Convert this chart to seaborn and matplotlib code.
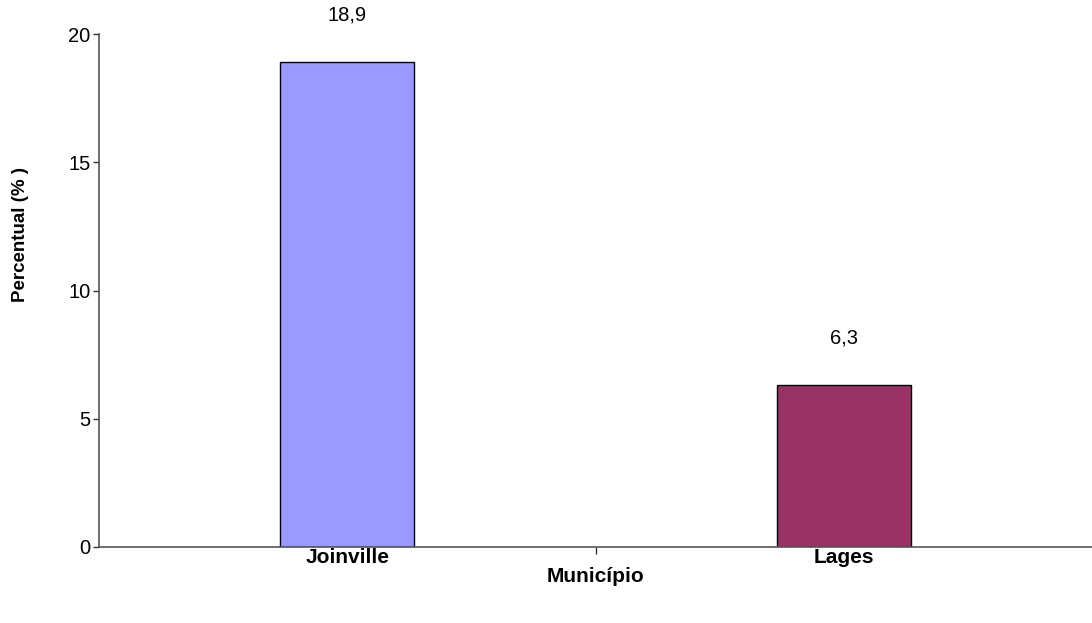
import matplotlib.pyplot as plt
import pandas as pd
import seaborn as sns
from matplotlib.ticker import FixedLocator

municipios = ["Joinville", "Lages"]
percentual = [18.9, 6.3]
rotulos = ["18,9", "6,3"]
cores = ["#9999FF", "#993366"]
y_ticks = [0, 5, 10, 15, 20]


def main():
    sns.set_theme(style="white")
    plt.rcParams["font.family"] = ["Liberation Sans", "DejaVu Sans"]
    plt.rcParams["text.color"] = "black"
    plt.rcParams["axes.labelcolor"] = "black"
    plt.rcParams["xtick.color"] = "black"
    plt.rcParams["ytick.color"] = "black"

    df = pd.DataFrame({"Município": municipios, "Percentual": percentual})

    fig = plt.figure(figsize=(10.92, 6.23), dpi=100)
    ax = fig.add_axes([0.0907, 0.122, 0.9093, 0.823])

    sns.barplot(
        data=df,
        x="Município",
        y="Percentual",
        hue="Município",
        palette=cores,
        saturation=1,
        legend=False,
        width=0.27,
        edgecolor="black",
        linewidth=1,
        ax=ax,
    )

    for i, (v, txt) in enumerate(zip(percentual, rotulos)):
        ax.annotate(txt, (i, v), xytext=(0, 34), textcoords="offset points",
                    ha="center", va="center", fontsize=14.5)

    ax.set_xlim(-0.5, 1.5)
    ax.set_ylim(0, 20)
    ax.set_yticks(y_ticks)
    ax.set_yticklabels([str(t) for t in y_ticks], fontsize=14.5)
    ax.set_xticks([0, 1])
    ax.set_xticklabels(municipios, fontsize=15, fontweight="bold")
    ax.xaxis.set_minor_locator(FixedLocator([0.5]))
    ax.tick_params(axis="x", which="major", length=0, pad=1)
    ax.tick_params(axis="x", which="minor", length=5, width=1, color="#333333", bottom=True)
    ax.tick_params(axis="y", which="major", length=4, width=1, color="#333333", left=True, pad=2)

    ax.set_xlabel("Município", fontsize=15, fontweight="bold", labelpad=0)
    ax.set_ylabel("Percentual (% )", fontsize=13.5, fontweight="bold")
    ax.yaxis.set_label_coords(-0.071, 0.61)

    for side in ["top", "right"]:
        ax.spines[side].set_visible(False)
    for side in ["left", "bottom"]:
        ax.spines[side].set_color("#555555")
        ax.spines[side].set_linewidth(1.2)

    fig.savefig("out.png", dpi=100)
    plt.close(fig)


if __name__ == "__main__":
    main()
